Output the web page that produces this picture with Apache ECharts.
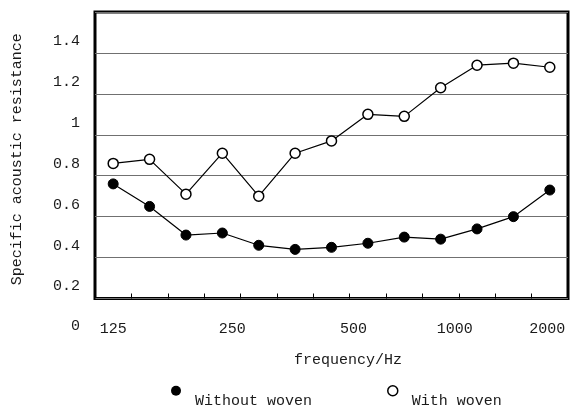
<!DOCTYPE html>
<html>
<head>
<meta charset="utf-8">
<script src="https://cdn.jsdelivr.net/npm/echarts@6/dist/echarts.min.js"></script>
<style>
  html, body { margin: 0; padding: 0; background: #fff; }
  #chart { width: 570px; height: 410px; }
</style>
</head>
<body>
<div id="chart"></div>
<script>
// One-third-octave band centre frequencies (Hz)
const frequencies = ['125', '160', '200', '250', '315', '400', '500', '630', '800', '1000', '1250', '1600', '2000'];
// Octave labels shown under the axis
const shownFrequencies = ['125', '250', '500', '1000', '2000'];
// Specific acoustic resistance per band
const withoutWoven = [0.76, 0.65, 0.51, 0.52, 0.46, 0.44, 0.45, 0.47, 0.50, 0.49, 0.54, 0.60, 0.73];
const withWoven    = [0.86, 0.88, 0.71, 0.91, 0.70, 0.91, 0.97, 1.10, 1.09, 1.23, 1.34, 1.35, 1.33];
// Value-axis tick labels
const yTicks = [0.2, 0.4, 0.6, 0.8, 1, 1.2, 1.4];

const FONT = '"Liberation Mono", "DejaVu Sans Mono", monospace';
const INK = '#1a1a1a';

const chart = echarts.init(document.getElementById('chart'), null, { renderer: 'canvas' });

const txt = { fontFamily: FONT, fontSize: 15, color: INK };

// per-label horizontal nudges for the octave labels
const labelRich = {
  f125:  Object.assign({}, txt),
  f250:  Object.assign({ padding: [0, 0, 0, 20] }, txt),
  f500:  Object.assign({ padding: [0, 0, 0, 44] }, txt),
  f1000: Object.assign({ padding: [0, 0, 0, 28] }, txt),
  f2000: Object.assign({ padding: [0, 5, 0, 0] }, txt)
};

chart.setOption({
  animation: false,
  backgroundColor: '#fff',
  grid: {
    left: 95, right: 2, top: 12, bottom: 111.5,
    containLabel: false,
    outerBoundsMode: 'none',
    show: true, borderColor: '#000', borderWidth: 3, backgroundColor: 'transparent'
  },
  xAxis: {
    type: 'category',
    data: frequencies,
    boundaryGap: true,
    axisLine: { show: false },
    axisTick: { show: true, inside: true, length: 5, interval: 0, lineStyle: { color: '#000', width: 1 } },
    axisLabel: {
      interval: (i, v) => shownFrequencies.includes(v),
      margin: 23,
      formatter: v => '{f' + v + '|' + v + '}',
      rich: labelRich
    },
    splitLine: { show: false },
    name: 'frequency/Hz',
    nameLocation: 'middle',
    nameGap: 54,
    nameTextStyle: Object.assign({ padding: [0, 0, 0, 33] }, txt)
  },
  yAxis: {
    type: 'value',
    min: 0.2,
    max: 1.6,
    interval: 0.2,
    axisLine: { show: false },
    axisTick: { show: false },
    axisLabel: {
      margin: 15,
      formatter: v => {
        const t = yTicks.find(k => Math.abs(k - v) < 1e-6);
        return t === undefined ? '' : '{v|' + t + '}';
      },
      rich: { v: Object.assign({ padding: [0, 0, 24, 0] }, txt) }
    },
    splitLine: { show: true, lineStyle: { color: '#707070', width: 1 } },
    name: 'Specific acoustic resistance',
    nameLocation: 'middle',
    nameGap: 70,
    nameRotate: 90,
    nameTextStyle: Object.assign({ padding: [0, 8, 0, 0] }, txt)
  },
  legend: {
    left: 166,
    top: 380,
    itemGap: 75,
    itemWidth: 10,
    itemHeight: 10,
    data: [
      { name: 'Without woven', icon: 'circle', itemStyle: { color: '#000', borderColor: '#000', borderWidth: 0 } },
      { name: 'With woven', icon: 'circle', itemStyle: { color: '#fff', borderColor: '#000', borderWidth: 1.5 } }
    ],
    formatter: name => '{t|' + name + '}',
    textStyle: {
      rich: { t: Object.assign({ padding: [20, 0, 0, 9] }, txt) }
    }
  },
  graphic: [{
    type: 'text',
    right: 490,
    top: 319,
    style: { text: '0', font: '15px ' + FONT, fill: INK }
  }],
  series: [
    {
      name: 'Without woven',
      type: 'line',
      data: withoutWoven,
      symbol: 'circle',
      symbolSize: 10,
      itemStyle: { color: '#000', borderColor: '#000', borderWidth: 1 },
      lineStyle: { color: '#000', width: 1.2 }
    },
    {
      name: 'With woven',
      type: 'line',
      data: withWoven,
      symbol: 'circle',
      symbolSize: 10,
      itemStyle: { color: '#fff', borderColor: '#000', borderWidth: 1.5 },
      lineStyle: { color: '#000', width: 1.2 }
    }
  ]
});
</script>
</body>
</html>
